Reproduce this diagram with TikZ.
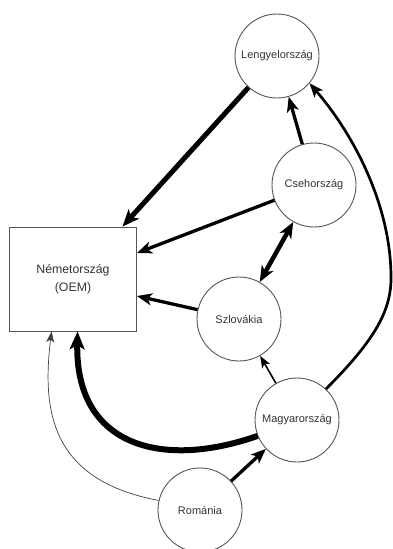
\documentclass[tikz,border=0pt]{standalone}
\usepackage{fontspec}
\setmainfont{Liberation Sans}
\usetikzlibrary{arrows.meta}
\definecolor{edgegrey}{HTML}{555555}
\definecolor{txtgrey}{HTML}{333333}
\tikzset{
  country/.style={circle, draw=edgegrey, line width=0.9pt, minimum size=84pt, inner sep=0pt,
    text=txtgrey, font=\fontsize{11}{13}\selectfont},
  oembox/.style={rectangle, draw=edgegrey, line width=0.9pt, minimum width=127pt, minimum height=104pt,
    inner sep=0pt, text=txtgrey, align=center, font=\fontsize{12.3}{17.5}\selectfont},
  huge/.style={line width=6pt, -{Stealth[length=18pt,width=15pt,inset=4.5pt]}},
  heavy/.style={line width=5pt, -{Stealth[length=17pt,width=14pt,inset=4.5pt]}},
  heavyboth/.style={line width=4.5pt, {Stealth[length=16pt,width=13pt,inset=4.5pt]}-{Stealth[length=16pt,width=13pt,inset=4.5pt]}},
  mid/.style={line width=3.3pt, -{Stealth[length=15pt,width=12pt,inset=4pt]}},
  midthin/.style={line width=2.7pt, -{Stealth[length=14pt,width=11pt,inset=3.5pt]}},
  light/.style={line width=1.6pt, -{Stealth[length=12pt,width=9pt,inset=3pt]}},
  hair/.style={line width=0.7pt, -{Stealth[length=11pt,width=8pt,inset=3pt]}, color=black!75},
}
\begin{document}
\begin{tikzpicture}[x=1pt,y=-1pt]
\useasboundingbox (0,0) rectangle (392,549);
\node[oembox] (nem) at (73,279) {Németország\\(OEM)};
\node[country] (len) at (277,56) {Lengyelország};
\node[country] (cseh) at (314,185) {Csehország};
\node[country] (szlo) at (239,319) {Szlovákia};
\node[country] (mag) at (297,420) {Magyarország};
\node[country] (rom) at (200,510) {Románia};

\draw[heavy] (len) -- ([xshift=-14.5pt]nem.north east);
\draw[mid] (cseh) -- (len);
\draw[mid] (cseh) -- ([yshift=26pt]nem.east);
\draw[heavyboth] (cseh) -- (szlo);
\draw[mid] (szlo) -- ([yshift=-17pt]nem.east);
\draw[light] (mag) -- (szlo);
\draw[mid] (rom) -- (mag);
\draw[midthin] (mag.47) .. controls (375,340) and (392,310) .. (391,275)
   .. controls (390,200) and (350,130) .. (len.-40);
\draw[huge] (mag.202) .. controls (160,470) and (75,445) .. ([xshift=68.5pt]nem.south west);
\draw[hair] (rom.167) .. controls (50,480) and (42,410) .. ([xshift=42.5pt]nem.south west);
\end{tikzpicture}
\end{document}
